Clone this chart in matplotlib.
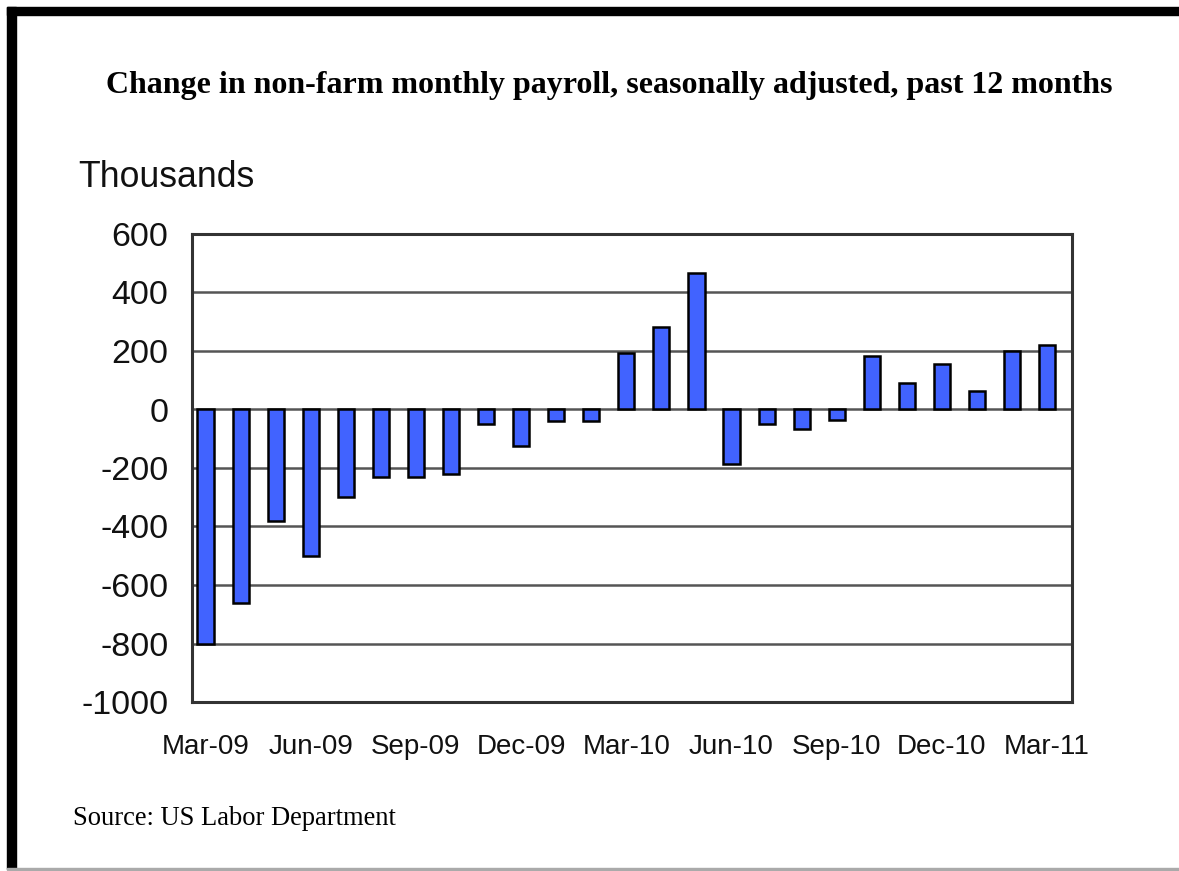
import matplotlib
matplotlib.use("Agg")
import matplotlib.pyplot as plt
from matplotlib.patches import Rectangle

# monthly change in non-farm payroll (thousands), Mar-09 .. Mar-11
months = ['Mar-09', 'Apr-09', 'May-09', 'Jun-09', 'Jul-09', 'Aug-09', 'Sep-09',
          'Oct-09', 'Nov-09', 'Dec-09', 'Jan-10', 'Feb-10', 'Mar-10', 'Apr-10',
          'May-10', 'Jun-10', 'Jul-10', 'Aug-10', 'Sep-10', 'Oct-10', 'Nov-10',
          'Dec-10', 'Jan-11', 'Feb-11', 'Mar-11']
change = [-800, -660, -380, -500, -300, -230, -230, -220, -50, -125, -40, -40,
          192, 282, 467, -185, -50, -68, -35, 182, 90, 154, 62, 200, 222]
tick_labels = ['Mar-09', 'Jun-09', 'Sep-09', 'Dec-09', 'Mar-10', 'Jun-10',
               'Sep-10', 'Dec-10', 'Mar-11']
yticks = [-1000, -800, -600, -400, -200, 0, 200, 400, 600]

W, H = 1179, 871
fig = plt.figure(figsize=(W / 100, H / 100), dpi=100)
fig.patch.set_facecolor('white')

# page frame: thick black left/top edges, thin grey bottom line
fig.patches.append(Rectangle((7 / W, 1 - 869 / H), 9 / W, 862 / H,
                             transform=fig.transFigure, color='black', zorder=5))
fig.patches.append(Rectangle((7 / W, 1 - 15 / H), 1 - 7 / W, 8 / H,
                             transform=fig.transFigure, color='black', zorder=5))
fig.patches.append(Rectangle((7 / W, 1 - 870 / H), 1 - 7 / W, 2 / H,
                             transform=fig.transFigure, color='#aaaaaa', zorder=5))

ax = fig.add_axes([192 / W, 1 - 702 / H, (1072 - 192) / W, (702 - 234) / H])
x = list(range(len(change)))
ax.bar(x, change, width=0.46, color='#4163ff', edgecolor='black',
       linewidth=1.8, zorder=3)

ax.set_xlim(-0.385, 24.71)
ax.set_ylim(-1000, 600)
ax.set_yticks(yticks)
ax.set_yticklabels([str(v) for v in yticks], fontsize=24.5,
                   family='Liberation Sans', color='#111111')
ax.set_xticks(list(range(0, 25, 3)))
ax.set_xticklabels(tick_labels, fontsize=20, family='Liberation Sans',
                   color='#111111')
ax.tick_params(axis='both', length=0)
ax.tick_params(axis='y', pad=17)
ax.tick_params(axis='x', pad=23)
ax.yaxis.grid(True, color='#555555', linewidth=1.8, zorder=1)
ax.set_axisbelow(True)
for s in ax.spines.values():
    s.set_color('#333333')
    s.set_linewidth(2.2)

fig.text(0.517, 1 - 93 / H,
         'Change in non-farm monthly payroll, seasonally adjusted, past 12 months',
         ha='center', va='baseline', fontsize=23, fontweight='bold',
         family='Liberation Serif')
fig.text(78 / W, 1 - 187 / H, 'Thousands', ha='left', va='baseline',
         fontsize=25.7, family='Liberation Sans', color='#111111')
fig.text(73 / W, 1 - 825 / H, 'Source: US Labor Department', ha='left',
         va='baseline', fontsize=19.1, family='Liberation Serif')

fig.savefig('out.png', dpi=100)
